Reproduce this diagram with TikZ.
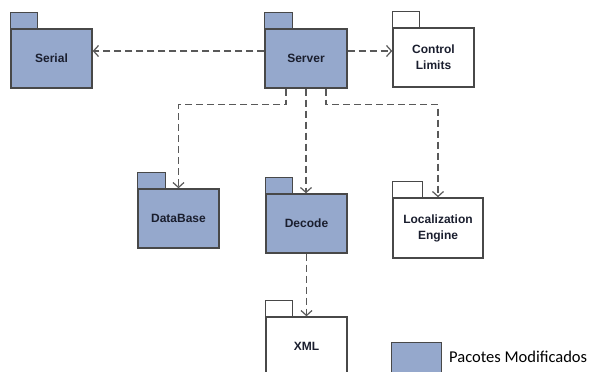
\documentclass[tikz,border=0pt]{standalone}
\usepackage{fontspec}
\setmainfont{Liberation Sans}
\newfontfamily\legendfont{Carlito}
\usetikzlibrary{arrows.meta,calc}
\definecolor{modblue}{RGB}{149,168,204}
\definecolor{pkgedge}{RGB}{72,72,72}
\definecolor{pkgtext}{RGB}{26,30,46}
\begin{document}
\begin{tikzpicture}[x=1pt,y=-1pt,font=\fontsize{12}{16}\selectfont\bfseries,
  >={Straight Barb[length=5pt,width=11pt]},
  pkg/.style={draw=pkgedge,line width=1.4pt,text=pkgtext,minimum width=81pt,minimum height=59pt,align=center,inner sep=0pt},
  mod/.style={pkg,fill=modblue},
  dep/.style={->,draw=black!65,line width=1.2pt,dash pattern=on 7pt off 4pt}]
\clip (0,0) rectangle (592,372);
\node[mod] (serial) at (51.5,58.5) {Serial};
\node[mod,minimum width=82pt] (server) at (306,58.5) {Server};
\node[pkg] (ctrl) at (433.5,57.5) {Control\\Limits};
\node[mod] (db) at (178.5,218.5) {DataBase};
\node[mod] (dec) at (306.5,223.5) {Decode};
\node[pkg,minimum width=90pt,minimum height=60pt] (loc) at (438,228) {Localization\\Engine};
\node[pkg] (xml) at (306.5,346.5) {XML};
\foreach \n/\c/\w in {serial/modblue/27,server/modblue/28,ctrl/white/27,db/modblue/28,dec/modblue/27,loc/white/30,xml/white/27}
  \draw[draw=pkgedge,line width=1.4pt,fill=\c] (\n.north west) rectangle ++(\w,-16);
\draw[dep] ($(server.west)+(0,-7.5)$) -- ($(serial.east)+(0,-7.5)$);
\draw[dep] ($(server.east)+(0,-7.5)$) -- ($(ctrl.west)+(0,-6.5)$);
\draw[dep] ($(server.south)+(-20,0)$) -- ++(0,16) -| (db.north);
\draw[dep] (server.south) -- (server.south |- dec.north);
\draw[dep] ($(server.south)+(20,0)$) -- ++(0,16) -| (loc.north);
\draw[dep] (dec.south) -- (xml.north);
\node[mod,minimum width=50pt,minimum height=40pt,anchor=north west] (key) at (391,342) {};
\node[font=\legendfont\mdseries\fontsize{16.5}{18}\selectfont,anchor=west,inner sep=0pt] (keytext) at (449,357) {Pacotes Modificados};
\end{tikzpicture}
\end{document}
